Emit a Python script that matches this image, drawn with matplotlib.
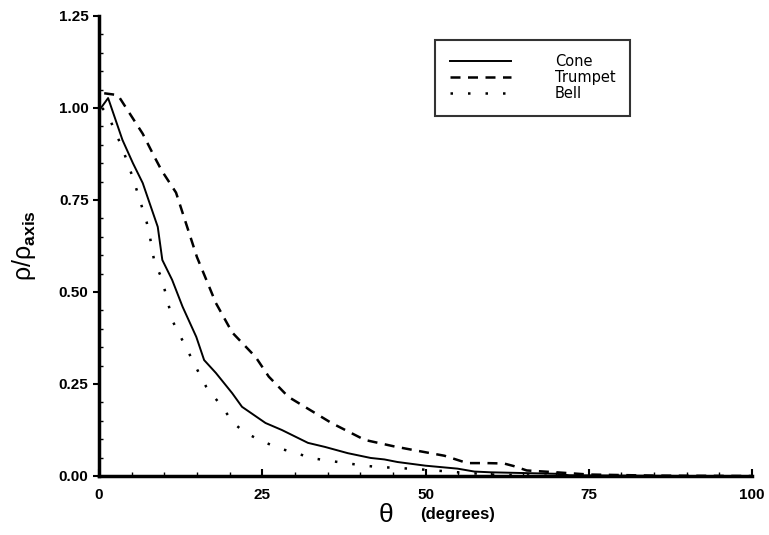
import matplotlib.pyplot as plt
from matplotlib.ticker import MultipleLocator, FormatStrFormatter

# values
cone_theta = [0.3, 1.4, 3.6, 5.2, 6.7, 9.0, 9.7, 11.2, 12.8, 14.9, 16.1, 17.9, 20.4, 21.9,
              25.5, 28.0, 32.0, 34.6, 38.1, 41.6, 43.7, 45.7, 50.0, 54.9, 57.5, 60.0, 65.0,
              70.0, 72.0, 80.0, 90.0, 100.0]
cone_rho = [1.00, 1.027, 0.913, 0.85, 0.796, 0.677, 0.587, 0.533, 0.46, 0.378, 0.315, 0.28,
            0.225, 0.188, 0.144, 0.125, 0.09, 0.079, 0.062, 0.049, 0.045, 0.038, 0.028, 0.02,
            0.012, 0.01, 0.008, 0.006, 0.002, 0.001, 0.0, 0.0]

trumpet_theta = [0.8, 2.9, 6.7, 8.5, 9.6, 11.8, 15.0, 17.9, 20.4, 24.0, 26.0, 29.0, 33.1,
                 35.6, 40.7, 45.3, 47.7, 52.9, 56.4, 59.4, 62.0, 63.5, 65.5, 70.0, 75.0,
                 85.0, 100.0]
trumpet_rho = [1.04, 1.035, 0.93, 0.867, 0.83, 0.77, 0.595, 0.47, 0.39, 0.323, 0.27, 0.215,
               0.171, 0.144, 0.098, 0.08, 0.072, 0.055, 0.035, 0.035, 0.034, 0.027, 0.015,
               0.01, 0.004, 0.001, 0.0]

bell_theta = [0.5, 1.4, 3.6, 5.2, 5.9, 7.3, 7.8, 8.5, 9.6, 11.3, 13.4, 15.3, 16.4, 19.2,
              20.4, 22.2, 24.0, 26.0, 28.0, 30.1, 32.4, 34.6, 36.6, 38.6, 41.2, 43.2, 45.7,
              50.0, 55.0, 60.0, 70.0]
bell_rho = [1.00, 0.98, 0.89, 0.81, 0.77, 0.69, 0.65, 0.58, 0.538, 0.42, 0.347, 0.28, 0.243,
            0.18, 0.147, 0.12, 0.103, 0.087, 0.073, 0.063, 0.049, 0.043, 0.038, 0.033, 0.027,
            0.024, 0.022, 0.017, 0.01, 0.004, 0.0]

plt.rcParams['font.family'] = ['Liberation Sans', 'DejaVu Sans']
plt.rcParams['mathtext.fontset'] = 'custom'
plt.rcParams['mathtext.rm'] = 'Liberation Sans'
plt.rcParams['mathtext.bf'] = 'Liberation Sans:bold'
plt.rcParams['mathtext.default'] = 'regular'

fig = plt.figure(figsize=(7.69, 5.35), dpi=100)
ax = fig.add_axes([0.1287, 0.1103, 0.8493, 0.8598])

ax.plot(cone_theta, cone_rho, color='black', lw=1.4, linestyle='-', label='Cone')
ax.plot(trumpet_theta, trumpet_rho, color='black', lw=1.8, linestyle=(0, (4, 3)), label='Trumpet')
ax.plot(bell_theta, bell_rho, color='black', lw=1.8, linestyle=(0, (1, 6)), label='Bell')

ax.set_xlim(0, 100)
ax.set_ylim(0, 1.25)
ax.spines['top'].set_visible(False)
ax.spines['right'].set_visible(False)
ax.spines['left'].set_linewidth(2.5)
ax.spines['bottom'].set_linewidth(2.5)

ax.xaxis.set_major_locator(MultipleLocator(25))
ax.xaxis.set_minor_locator(MultipleLocator(5))
ax.yaxis.set_major_locator(MultipleLocator(0.25))
ax.yaxis.set_minor_locator(MultipleLocator(0.05))
ax.yaxis.set_major_formatter(FormatStrFormatter('%.2f'))
ax.tick_params(axis='y', which='major', direction='out', length=4, width=1.5, labelsize=11)
ax.tick_params(axis='x', which='major', direction='in', length=5, width=1.5, labelsize=11, pad=9)
ax.tick_params(which='minor', direction='in', length=3, width=1)
for lab in ax.get_xticklabels() + ax.get_yticklabels():
    lab.set_fontweight('bold')

ax.set_ylabel(r'ρ/ρ$_{\mathbf{axis}}$', fontsize=18, labelpad=15)
ax.text(0.44, -0.085, 'θ', transform=ax.transAxes, fontsize=19,
        ha='center', va='center')
ax.text(0.492, -0.083, '(degrees)', transform=ax.transAxes, fontsize=12,
        fontweight='bold', ha='left', va='center')

leg = ax.legend(loc='upper left', bbox_to_anchor=(0.515, 0.948), frameon=True,
                fancybox=False, edgecolor='black', borderaxespad=0,
                prop={'family': 'DejaVu Sans', 'size': 10.5},
                handlelength=4.2, borderpad=1.0, labelspacing=0.05, handletextpad=3.0)
leg.get_frame().set_linewidth(1.5)

plt.savefig('out.png', dpi=100)
